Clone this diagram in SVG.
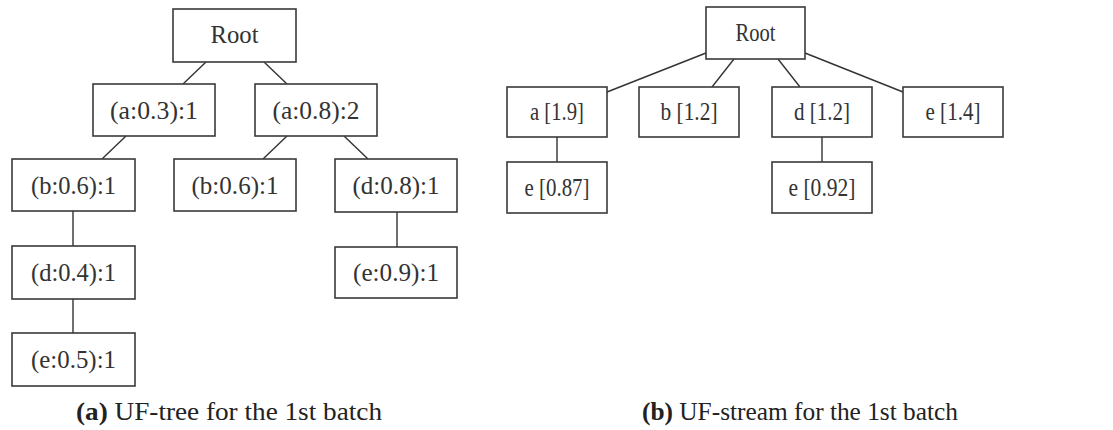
<svg xmlns="http://www.w3.org/2000/svg" width="1113" height="430" viewBox="0 0 1113 430">
  <style>
    .box { fill: #ffffff; stroke: #3a3a3a; stroke-width: 1.6; }
    .lbl { font-family: "Liberation Serif", "Times New Roman", serif; font-size: 25px; fill: #333333; text-anchor: middle; }
    .cap { font-family: "Liberation Serif", "Times New Roman", serif; font-size: 26px; fill: #222222; }
    .edge { stroke: #333333; stroke-width: 1.4; fill: none; }
  </style>
  <rect x="0" y="0" width="1113" height="430" fill="#ffffff"/>

  <!-- connectors -->
  <g id="connectors" class="edge">
    <!-- (a) UF-tree -->
    <line x1="206" y1="62" x2="183" y2="84"/>
    <line x1="264" y1="62" x2="287" y2="84"/>
    <line x1="126" y1="136" x2="102" y2="159"/>
    <line x1="287" y1="136" x2="263" y2="159"/>
    <line x1="344" y1="136" x2="368" y2="159"/>
    <line x1="73" y1="211" x2="73" y2="246"/>
    <line x1="73" y1="299" x2="73" y2="333"/>
    <line x1="397" y1="212" x2="397" y2="247"/>
    <!-- (b) UF-stream -->
    <line x1="706" y1="53" x2="607" y2="92"/>
    <line x1="734" y1="59" x2="712" y2="87"/>
    <line x1="778" y1="59" x2="800" y2="87"/>
    <line x1="805" y1="53" x2="903" y2="92"/>
    <line x1="557" y1="137" x2="557" y2="162"/>
    <line x1="822" y1="137" x2="822" y2="162"/>
  </g>

  <!-- (a) UF-tree nodes -->
  <g id="t-root">
    <rect class="box" x="173" y="9" width="123" height="53"/>
    <text class="lbl" x="234.5" y="43" textLength="48" lengthAdjust="spacingAndGlyphs">Root</text>
  </g>
  <g id="t-a03">
    <rect class="box" x="93" y="84" width="122" height="52"/>
    <text class="lbl" x="154" y="119" textLength="88" lengthAdjust="spacingAndGlyphs">(a:0.3):1</text>
  </g>
  <g id="t-a08">
    <rect class="box" x="255" y="84" width="122" height="52"/>
    <text class="lbl" x="316" y="119" textLength="87" lengthAdjust="spacingAndGlyphs">(a:0.8):2</text>
  </g>
  <g id="t-b06-left">
    <rect class="box" x="12" y="159" width="123" height="52"/>
    <text class="lbl" x="73.5" y="194" textLength="85" lengthAdjust="spacingAndGlyphs">(b:0.6):1</text>
  </g>
  <g id="t-b06-mid">
    <rect class="box" x="174" y="159" width="122" height="52"/>
    <text class="lbl" x="235" y="194" textLength="87" lengthAdjust="spacingAndGlyphs">(b:0.6):1</text>
  </g>
  <g id="t-d08">
    <rect class="box" x="335" y="159" width="122" height="53"/>
    <text class="lbl" x="396" y="194" textLength="87" lengthAdjust="spacingAndGlyphs">(d:0.8):1</text>
  </g>
  <g id="t-d04">
    <rect class="box" x="12" y="246" width="123" height="53"/>
    <text class="lbl" x="73.5" y="281" textLength="85" lengthAdjust="spacingAndGlyphs">(d:0.4):1</text>
  </g>
  <g id="t-e09">
    <rect class="box" x="335" y="247" width="122" height="51"/>
    <text class="lbl" x="396" y="281" textLength="86" lengthAdjust="spacingAndGlyphs">(e:0.9):1</text>
  </g>
  <g id="t-e05">
    <rect class="box" x="12" y="333" width="123" height="53"/>
    <text class="lbl" x="73.5" y="368" textLength="85" lengthAdjust="spacingAndGlyphs">(e:0.5):1</text>
  </g>

  <!-- (b) UF-stream nodes -->
  <g id="s-root">
    <rect class="box" x="706" y="7" width="99" height="52"/>
    <text class="lbl" x="755.5" y="41" textLength="40" lengthAdjust="spacingAndGlyphs">Root</text>
  </g>
  <g id="s-a">
    <rect class="box" x="507" y="87" width="100" height="50"/>
    <text class="lbl" x="557" y="120" textLength="54" lengthAdjust="spacingAndGlyphs">a [1.9]</text>
  </g>
  <g id="s-b">
    <rect class="box" x="639" y="87" width="100" height="50"/>
    <text class="lbl" x="689" y="120" textLength="57" lengthAdjust="spacingAndGlyphs">b [1.2]</text>
  </g>
  <g id="s-d">
    <rect class="box" x="772" y="87" width="100" height="50"/>
    <text class="lbl" x="822" y="120" textLength="56" lengthAdjust="spacingAndGlyphs">d [1.2]</text>
  </g>
  <g id="s-e">
    <rect class="box" x="903" y="87" width="100" height="50"/>
    <text class="lbl" x="953" y="120" textLength="55" lengthAdjust="spacingAndGlyphs">e [1.4]</text>
  </g>
  <g id="s-a-e">
    <rect class="box" x="507" y="162" width="100" height="51"/>
    <text class="lbl" x="557" y="196" textLength="65" lengthAdjust="spacingAndGlyphs">e [0.87]</text>
  </g>
  <g id="s-d-e">
    <rect class="box" x="772" y="162" width="100" height="51"/>
    <text class="lbl" x="822" y="196" textLength="67" lengthAdjust="spacingAndGlyphs">e [0.92]</text>
  </g>

  <!-- captions -->
  <g id="captions">
    <text class="cap" x="76" y="420" textLength="306" lengthAdjust="spacingAndGlyphs"><tspan font-weight="bold">(a)</tspan> UF-tree for the 1st batch</text>
    <text class="cap" x="642" y="420" textLength="316" lengthAdjust="spacingAndGlyphs"><tspan font-weight="bold">(b)</tspan> UF-stream for the 1st batch</text>
  </g>
</svg>
